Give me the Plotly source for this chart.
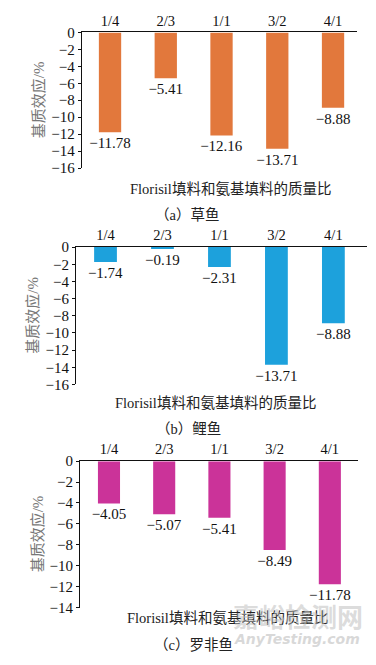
import plotly.graph_objects as go

W, H = 376, 665

categories = ["1/4", "2/3", "1/1", "3/2", "4/1"]
values_a = [-11.78, -5.41, -12.16, -13.71, -8.88]   # 草鱼
values_b = [-1.74, -0.19, -2.31, -13.71, -8.88]     # 鲤鱼
values_c = [-4.05, -5.07, -5.41, -8.49, -11.78]     # 罗非鱼
subtitles = ["（a）草鱼", "（b）鲤鱼", "（c）罗非鱼"]
y_title = "基质效应/%"
x_title = "Florisil填料和氨基填料的质量比"
y_ranges = [[-16, 0], [-16, 0], [-14, 0]]
colors = ["#E2783C", "#1DA1DC", "#CB3399"]

FONT = "Liberation Serif, Noto Sans CJK SC"

# panel geometry in pixels
panels = [
    dict(px=(81.7, 357), py=(25, 164), xr=[-0.508, 4.43], ty=185, sy=212, tx=230, sx=187, ytx=38),
    dict(px=(76, 367), py=(245, 385.7), xr=[-0.518, 4.59], ty=405, sy=431, tx=215, sx=188, ytx=33),
    dict(px=(80, 358), py=(464.3, 614.3), xr=[-0.525, 4.51], ty=625, sy=652, tx=227, sx=193, ytx=37),
]

def fx(p):
    return p / W

def fy(p):
    return 1 - p / H

fig = go.Figure()
annotations = []
all_values = [values_a, values_b, values_c]
for i, (vals, pan) in enumerate(zip(all_values, panels)):
    n = "" if i == 0 else str(i + 1)
    txt = [("−" + f"{abs(v):.2f}") if v < 0 else f"{v:.2f}" for v in vals]
    fig.add_trace(go.Bar(
        x=categories, y=vals, width=0.4,
        marker=dict(color=colors[i], line=dict(width=0)),
        text=txt, textposition="outside", cliponaxis=False,
        constraintext="none",
        textfont=dict(family=FONT, size=15, color="#111"),
        xaxis="x" + n, yaxis="y" + n, showlegend=False,
    ))
    fig.layout["xaxis" + n] = dict(
        domain=[fx(pan["px"][0]), fx(pan["px"][1])],
        anchor="y" + n, type="category", side="top",
        range=pan["xr"], showline=True, linecolor="#111", linewidth=1,
        ticks="", showgrid=False, zeroline=False,
        tickfont=dict(family=FONT, size=14.5, color="#111"),
    )
    fig.layout["yaxis" + n] = dict(
        domain=[fy(pan["py"][1]), fy(pan["py"][0])],
        anchor="x" + n, range=y_ranges[i], dtick=2,
        showline=True, linecolor="#111", linewidth=1,
        ticks="outside", ticklen=3, tickcolor="#111",
        showgrid=False, zeroline=False,
        tickfont=dict(family=FONT, size=15, color="#111"),
    )
    annotations.append(dict(
        text=y_title, x=fx(pan["ytx"]), y=fy((pan["py"][0] + pan["py"][1]) / 2),
        xref="paper", yref="paper", showarrow=False, textangle=-90,
        font=dict(family=FONT, size=15, color="#777"),
        xanchor="center", yanchor="middle"))
    annotations.append(dict(
        text=x_title, x=fx(pan["tx"]), y=fy(pan["ty"]),
        xref="paper", yref="paper", showarrow=False,
        font=dict(family=FONT, size=14.5, color="#222"),
        xanchor="center", yanchor="middle"))
    annotations.append(dict(
        text=subtitles[i], x=fx(pan["sx"]), y=fy(pan["sy"]),
        xref="paper", yref="paper", showarrow=False,
        font=dict(family=FONT, size=14.5, color="#222"),
        xanchor="center", yanchor="middle"))

# watermark
annotations.append(dict(
    text="嘉峪检测网", x=fx(298), y=fy(622), xref="paper", yref="paper",
    showarrow=False, xanchor="center", yanchor="middle",
    font=dict(family="Noto Sans CJK SC", size=26, color="rgba(190,190,190,0.55)", weight="bold")))
annotations.append(dict(
    text="AnyTesting.com", x=fx(297), y=fy(647), xref="paper", yref="paper",
    showarrow=False, xanchor="center", yanchor="middle",
    font=dict(family="DejaVu Sans", size=14, color="rgba(190,190,190,0.6)", weight="bold", style="italic")))

fig.update_layout(
    width=W, height=H,
    margin=dict(l=0, r=0, t=0, b=0),
    paper_bgcolor="white", plot_bgcolor="white",
    annotations=annotations,
)

fig.write_html("out.html", config={"displayModeBar": False},
               post_script="document.body.style.margin='0';")
